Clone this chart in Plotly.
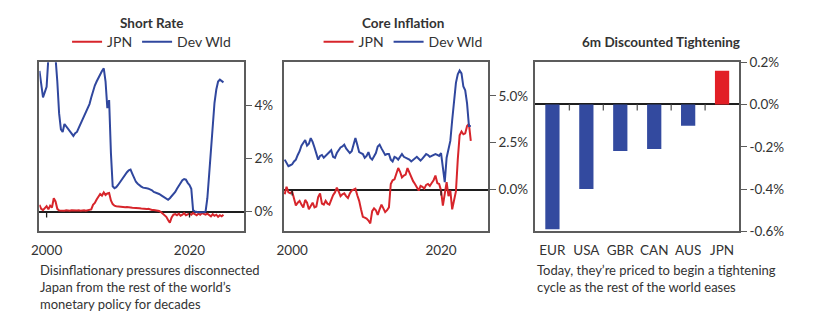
import pandas as pd
import plotly.graph_objects as go

# ---- Short rates, quarterly from 1999Q1 (% p.a.) ----
short_dev = [
    5.3, 4.7, 4.3, 4.5,
    4.7, 5.8, 6.2, 6.3,
    6.0, 5.8, 4.9, 3.7,
    3.1, 3.0, 3.3, 3.2,
    3.1, 3.0, 2.95, 2.85,
    2.95, 3.0, 3.15, 3.3,
    3.45, 3.6, 3.7, 3.85,
    4.05, 4.3, 4.55, 4.75,
    4.9, 5.05, 5.15, 5.3,
    5.4, 4.9, 3.9, 4.2,
    2.2, 0.95, 0.88, 0.92,
    1.0, 1.1, 1.22, 1.32,
    1.38, 1.48, 1.55, 1.58,
    1.42, 1.25, 1.12, 1.05,
    0.98, 0.94, 0.9, 0.9,
    0.88, 0.86, 0.84, 0.8,
    0.74, 0.72, 0.68, 0.66,
    0.62, 0.57, 0.54, 0.48,
    0.44, 0.5, 0.58, 0.64,
    0.74, 0.86, 0.96, 1.08,
    1.18, 1.22, 1.2, 1.08,
    1.0, 0.86, 0.05, 0.0,
    -0.02, -0.03, -0.03, -0.04,
    -0.03, 0.0, 0.5, 1.4,
    2.3, 3.4, 4.1, 4.6,
    4.9, 4.97, 4.9, 4.87,
]
short_jpn = [
    0.25, 0.1, 0.05, 0.12,
    0.2, 0.08, 0.22, 0.15,
    0.5, 0.38, 0.1, 0.04,
    0.03, 0.04, 0.03, 0.05,
    0.04, 0.03, 0.05, 0.04,
    0.03, 0.04, 0.05, 0.03,
    0.04, 0.05, 0.03, 0.04,
    0.05, 0.08, 0.25, 0.32,
    0.45, 0.55, 0.66, 0.6,
    0.72, 0.62, 0.68, 0.7,
    0.42, 0.28, 0.22, 0.2,
    0.19, 0.18, 0.17, 0.17,
    0.16, 0.17, 0.15, 0.15,
    0.14, 0.14, 0.13, 0.12,
    0.12, 0.11, 0.1, 0.1,
    0.09, 0.1, 0.07, 0.06,
    0.06, 0.05, 0.03, 0.02,
    -0.02, -0.08, -0.15, -0.2,
    -0.32, -0.42, -0.22, -0.12,
    -0.1, -0.14, -0.08, -0.16,
    -0.12, -0.06, -0.14, -0.1,
    -0.08, -0.12, -0.06, -0.1,
    -0.14, -0.08, -0.12, -0.06,
    -0.1, -0.12, -0.08, -0.15,
    -0.18, -0.1, -0.16, -0.12,
    -0.2, -0.14, -0.18, -0.12,
]
short_dates = pd.date_range("1999-01-01", periods=len(short_dev), freq="QS")

# ---- Core inflation, quarterly from 1999Q1 (% y/y) ----
core_dev = [
    1.6, 1.45, 1.25, 1.3,
    1.35, 1.5, 1.6, 1.85,
    2.05, 2.35, 2.5, 2.65,
    2.35, 2.45, 2.75, 2.55,
    2.25, 1.95, 1.6, 1.8,
    1.85, 1.7, 1.8, 1.9,
    1.95, 2.1, 1.75, 1.7,
    1.95, 2.1, 2.25, 2.3,
    2.4, 2.2, 2.05, 1.95,
    2.05, 2.45, 2.75, 2.4,
    2.0, 1.95, 1.9, 1.7,
    1.8, 2.0, 1.7, 1.6,
    1.75, 1.95, 2.3, 2.4,
    2.2, 2.05, 1.85, 1.9,
    1.9, 1.6, 1.5, 1.75,
    1.7, 1.6, 1.75, 1.9,
    1.75, 1.7, 1.65, 1.6,
    1.5, 1.6, 1.7, 1.75,
    1.65, 1.55, 1.65, 1.8,
    1.9, 1.85, 1.75, 1.8,
    1.85, 1.9, 1.85, 1.8,
    1.95, 1.1, 0.4, 1.7,
    2.1, 2.6, 3.7, 4.7,
    5.7, 6.15, 6.35, 6.2,
    5.5, 5.3, 4.6, 3.4,
    3.4,
]
core_jpn = [
    -0.25, 0.15, -0.15, -0.2,
    -0.1, -0.5, -0.85, -0.7,
    -0.6, -0.8, -0.95, -0.55,
    -0.7, -1.05, -0.85, -0.7,
    -0.95, -0.9, -0.4, -0.2,
    -0.75, -0.8, -0.6, -0.75,
    -0.8, -0.5, -0.3, -0.15,
    0.1, -0.1, -0.35, -0.25,
    -0.2, -0.35, -0.45, -0.2,
    -0.05, 0.0, 0.05, -0.3,
    -0.6, -1.05, -1.45, -1.5,
    -1.55, -1.65, -1.8, -1.15,
    -1.0, -1.1, -1.35, -1.05,
    -0.8, -1.0, -1.2, -1.1,
    -0.95, 0.3, 0.5, 0.55,
    0.85, 1.15, 0.95, 0.65,
    0.75, 0.8, 1.15, 0.9,
    0.65, 0.45, 0.3, 0.1,
    -0.05, 0.2, 0.15, 0.05,
    0.25, 0.3, 0.2, 0.35,
    0.5, 0.75, 0.35, 0.3,
    -0.05, -0.85, -0.2, 0.4,
    -0.35, -0.05, -1.05, -0.5,
    -0.1, 1.6, 2.9, 3.1,
    2.95, 3.0, 3.4, 3.5,
    2.6,
]
core_dates = pd.date_range("1999-01-01", periods=len(core_dev), freq="QS")

# ---- 6m discounted tightening (%) ----
countries = ["EUR", "USA", "GBR", "CAN", "AUS", "JPN"]
tightening = [-0.59, -0.40, -0.22, -0.21, -0.10, 0.16]

# axis tick labels
year_ticks = ["2000-01-01", "2020-01-01"]
year_labels = ["2000", "2020"]
short_ticks = [0, 2, 4]
short_labels = ["0%", "2%", "4%"]
core_ticks = [0, 2.5, 5]
core_labels = ["0.0%", "2.5%", "5.0%"]
tight_ticks = [0.2, 0.0, -0.2, -0.4, -0.6]
tight_labels = ["0.2%", "0.0%", "-0.2%", "-0.4%", "-0.6%"]

RED = "#d7252b"
BLUE = "#30479e"
BAR_BLUE = "#334a9f"
BAR_RED = "#e21f26"
FRAME = "#5c5c5c"
TEXT = "#333333"
FONT = "Lato"

W, H = 813, 324
def px(x):
    return x / W
def py(y):
    return 1 - y / H

fig = go.Figure()

fig.add_trace(go.Scatter(x=short_dates, y=short_jpn, name="JPN", mode="lines",
                         line=dict(color=RED, width=2), xaxis="x", yaxis="y", legend="legend"))
fig.add_trace(go.Scatter(x=short_dates, y=short_dev, name="Dev Wld", mode="lines",
                         line=dict(color=BLUE, width=2), xaxis="x", yaxis="y", legend="legend"))
fig.add_trace(go.Scatter(x=core_dates, y=core_jpn, name="JPN", mode="lines",
                         line=dict(color=RED, width=2), xaxis="x2", yaxis="y2", legend="legend2"))
fig.add_trace(go.Scatter(x=core_dates, y=core_dev, name="Dev Wld", mode="lines",
                         line=dict(color=BLUE, width=2), xaxis="x2", yaxis="y2", legend="legend2"))
fig.add_trace(go.Bar(x=countries, y=tightening, showlegend=False,
                     marker=dict(color=[BAR_RED if v > 0 else BAR_BLUE for v in tightening], line_width=0),
                     xaxis="x3", yaxis="y3"))

ydom = [py(235), py(57)]
frame = dict(showline=True, mirror=True, linecolor=FRAME, linewidth=1.5, showgrid=False)
tickfont = dict(family=FONT, size=13.5, color=TEXT)

def xdate(dom, rng, anchor):
    return dict(domain=dom, range=rng, anchor=anchor, type="date", tickvals=year_ticks,
                ticktext=year_labels, ticks="", ticklabelstandoff=6, tickfont=tickfont,
                zeroline=False, **frame)

def yright(rng, tv, tt, anchor):
    return dict(domain=ydom, range=rng, anchor=anchor, side="right", tickvals=tv, ticktext=tt,
                ticks="outside", ticklen=6, tickwidth=1.3, tickcolor=FRAME, tickfont=tickfont,
                zeroline=True, zerolinecolor="#1e1e1e", zerolinewidth=1.6, **frame)

legend_style = dict(orientation="h", y=py(36), yanchor="middle", xanchor="center",
                    font=dict(family=FONT, size=14, color=TEXT), bgcolor="rgba(0,0,0,0)")

fig.update_layout(
    width=W, height=H,
    margin=dict(l=0, r=0, t=0, b=0),
    paper_bgcolor="white", plot_bgcolor="white",
    font=dict(family=FONT, color=TEXT),
    bargap=0.58,
    xaxis=xdate([px(31.7), px(238.3)], ["1998-12-28", "2027-08-15"], "y"),
    yaxis=yright([-0.75, 5.63], short_ticks, short_labels, "x"),
    xaxis2=xdate([px(278.7), px(484.7)], ["1998-11-25", "2026-04-20"], "y2"),
    yaxis2=yright([-2.23, 6.8], core_ticks, core_labels, "x2"),
    xaxis3=dict(domain=[px(532.7), px(738.3)], anchor="y3", type="category", ticks="",
                ticklabelstandoff=6, tickfont=tickfont, **frame),
    yaxis3=yright([-0.6, 0.2], tight_ticks, tight_labels, "x3"),
    legend=dict(x=px(145), **legend_style),
    legend2=dict(x=px(399), **legend_style),
)

# Panel titles
titles = [("Short Rate", 145, 15.7), ("Core Inflation", 399, 15.7),
          ("6m Discounted Tightening", 659, 36)]
for text, cx, cy in titles:
    fig.add_annotation(text=f"<b>{text}</b>", xref="paper", yref="paper", x=px(cx), y=py(cy),
                       xanchor="center", yanchor="middle", showarrow=False,
                       font=dict(family=FONT, size=13.5, color=TEXT))

# Captions below the panels
captions = [
    (31, "Disinflationary pressures disconnected<br>Japan from the rest of the world\u2019s<br>"
         "monetary policy for decades"),
    (533, "Today, they\u2019re priced to begin a tightening<br>cycle as the rest of the world eases"),
]
for x0, text in captions:
    fig.add_annotation(text=text, xref="paper", yref="paper", x=px(x0), y=py(266),
                       xanchor="left", yanchor="top", align="left", showarrow=False,
                       borderpad=0, font=dict(family=FONT, size=13, color=TEXT))

# Year ticks hanging from the zero line
for xa, ya in (("x", "y"), ("x2", "y2")):
    for d in year_ticks:
        fig.add_shape(type="line", xref=xa, yref=ya, x0=d, x1=d, ysizemode="pixel", yanchor=0,
                      y0=0, y1=-6, line=dict(color="#1e1e1e", width=1.3))

# Category separators hanging from the zero line
for i in range(len(countries) - 1):
    fig.add_shape(type="line", xref="x3", yref="y3", x0=i + 0.5, x1=i + 0.5, ysizemode="pixel",
                  yanchor=0, y0=0, y1=-6, line=dict(color=FRAME, width=1.3))

fig.write_html("out.html")
